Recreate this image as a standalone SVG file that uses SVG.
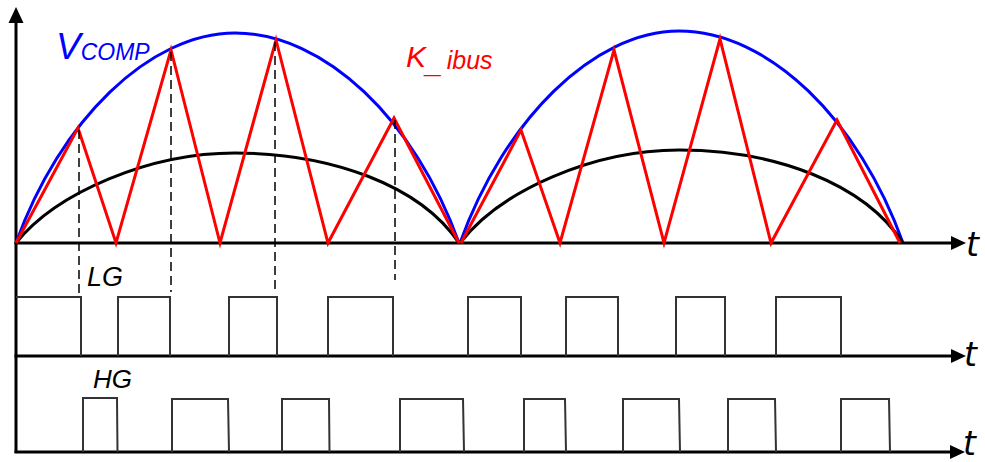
<svg xmlns="http://www.w3.org/2000/svg" width="985" height="462" viewBox="0 0 985 462">
<defs>
<style>
.ax{stroke:#000;stroke-width:3;fill:none}
.ah{fill:#000;stroke:none}
.blue{stroke:#0000ff;stroke-width:3;fill:none}
.red{stroke:#ff0000;stroke-width:3;fill:none;stroke-linejoin:miter}
.blk{stroke:#000;stroke-width:3;fill:none}
.dash{stroke:#000;stroke-width:1.5;stroke-dasharray:9,5;fill:none}
.pulse{stroke:#333;stroke-width:2;fill:none}
.lbl{font-family:"Liberation Sans",Arial,sans-serif;font-style:italic}
.tt{font-family:"DejaVu Sans",sans-serif;font-style:italic;font-size:33px}
</style>
</defs>
<rect width="985" height="462" fill="#fff"/>
<g id="axes">
<line class="ax" x1="16" y1="20" x2="16" y2="453"/>
<polygon class="ah" points="16,7 8.5,23 23.5,23"/>
<line class="ax" x1="14.5" y1="243" x2="952" y2="243"/>
<polygon class="ah" points="951,236 966,243 951,250"/>
<line class="ax" x1="14.5" y1="356" x2="952" y2="356"/>
<polygon class="ah" points="951,349 966,356 951,363"/>
<line class="ax" x1="14.5" y1="452" x2="952" y2="452"/>
<polygon class="ah" points="950,445 965,452 950,459"/>
<text class="tt" x="966" y="256">t</text>
<text class="tt" x="964" y="366">t</text>
<text class="tt" x="963" y="455">t</text>
</g>
<g id="vcomp">
<path class="blue" d="M16,243 C60,120 150,33 235,33 C325,33 415,120 459,243"/>
<path class="blue" d="M460,243 C504,120 594,31 679,31 C769,31 859,120 903,243"/>
<text class="lbl" fill="#0000ff" x="56" y="59" font-size="37">V<tspan font-size="23" dy="1">COMP</tspan></text>
</g>
<g id="black-curve">
<path class="blk" d="M16,243 C57,192 150,153 235,153 C330,153 420,185 459,243"/>
<path class="blk" d="M460,243 C501,190 594,150 679,150 C774,150 864,183 903,243"/>
</g>
<g id="kibus">
<polyline class="red" points="16,243 78,128 116,243 171,50 220,243 276,40 328,243 394,118 459,243"/>
<polyline class="red" points="461,243 521,130 560,243 614,50 664,243 720,39 771,243 837,120 900,243"/>
<text class="lbl" fill="#ff0000" x="406" y="67" font-size="30">K<tspan dy="6">_</tspan><tspan font-size="25" dx="4" dy="-4">ibus</tspan></text>
</g>
<g id="dashes">
<line class="dash" x1="79" y1="130" x2="79" y2="294"/>
<line class="dash" x1="171" y1="52" x2="171" y2="292"/>
<line class="dash" x1="275" y1="42" x2="275" y2="292"/>
<line class="dash" x1="395" y1="120" x2="395" y2="280"/>
</g>
<g id="lg">
<polyline class="pulse" points="16,297 81,297 81,356"/>
<polyline class="pulse" points="118,356 118,297 170,297 170,356"/>
<polyline class="pulse" points="229,356 229,297 277,297 277,356"/>
<polyline class="pulse" points="328,356 328,297 393,297 393,356"/>
<polyline class="pulse" points="468,356 468,297 521,297 521,356"/>
<polyline class="pulse" points="566,356 566,297 618,297 618,356"/>
<polyline class="pulse" points="676,356 676,297 725,297 725,356"/>
<polyline class="pulse" points="776,356 776,297 841,297 841,356"/>
<text class="lbl" fill="#000" x="87" y="286" font-size="27">LG</text>
</g>
<g id="hg">
<polyline class="pulse" points="83,452 83,398 117,398 117.5,452"/>
<polyline class="pulse" points="172,452 172,399 228,399 229,452"/>
<polyline class="pulse" points="282,452 282,399 329,399 329.5,452"/>
<polyline class="pulse" points="400,452 400,399 463,399 464,452"/>
<polyline class="pulse" points="524,452 524,399 565,399 566,452"/>
<polyline class="pulse" points="623,452 623,399 679,399 680,452"/>
<polyline class="pulse" points="728,452 728,399 775,399 776,452"/>
<polyline class="pulse" points="841,452 841,399 889,399 890,452"/>
<text class="lbl" fill="#000" x="93" y="388" font-size="26">HG</text>
</g>
</svg>
